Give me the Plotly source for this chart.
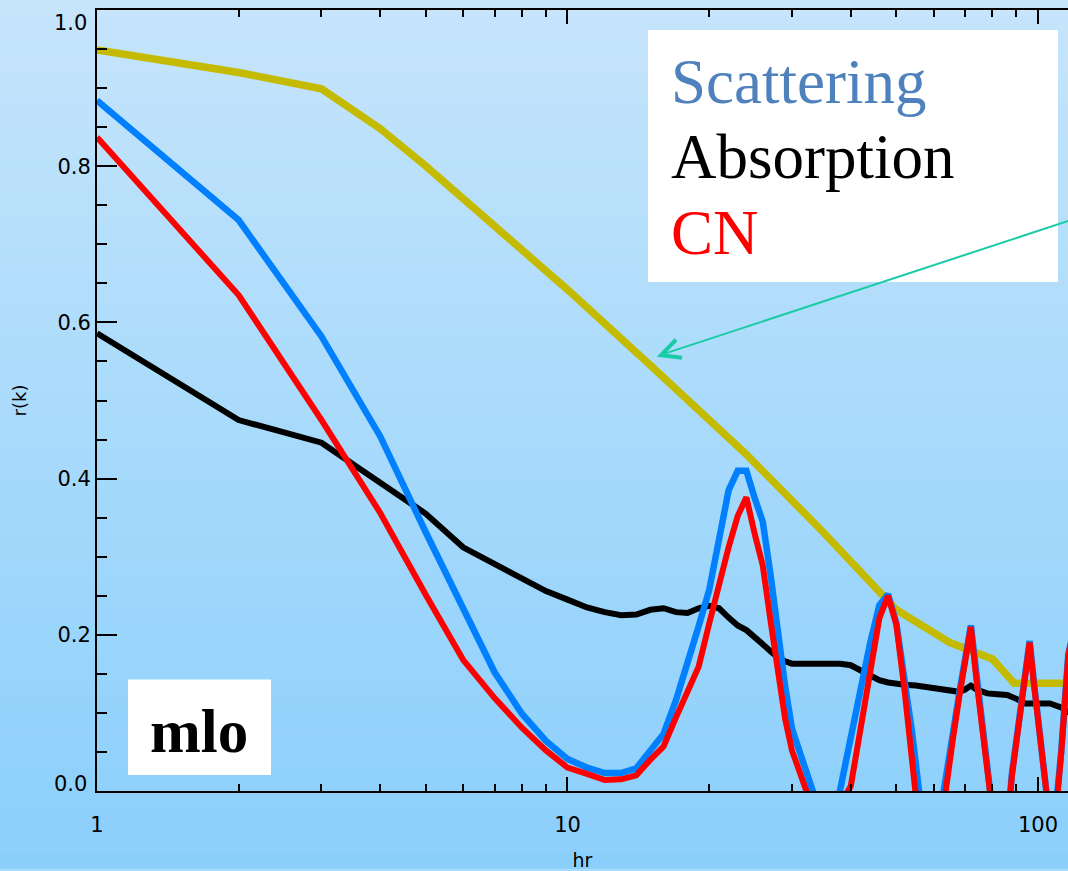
import plotly.graph_objects as go

# ---------------- data ----------------
hours = [1, 2, 3, 4, 5, 6, 7, 8, 9, 10, 11, 12, 13, 14, 15, 16, 17, 18, 19, 20,
         21, 22, 23, 24, 25, 26, 27, 28, 29, 30, 31, 32, 33, 34, 35, 36, 37, 38, 39, 40,
         42, 44, 46, 48, 50, 52, 54, 56, 58, 60, 62, 64, 66, 68, 70, 72, 74, 76, 78, 80,
         82, 84, 86, 88, 90, 92, 94, 96, 98, 100, 102, 104, 106, 108, 110, 112, 114, 116, 118, 120]

scattering = [0.884, 0.731, 0.582, 0.454, 0.331, 0.232, 0.152, 0.099, 0.064, 0.041,
              0.030, 0.023, 0.023, 0.029, 0.053, 0.073, 0.116, 0.163, 0.211, 0.257,
              0.326, 0.385, 0.410, 0.410, 0.375, 0.345, 0.278, 0.198, 0.135, 0.080,
              0.051, 0.029, 0.005, -0.02, -0.04, -0.04, -0.02, 0.002, 0.036, 0.069,
              0.131, 0.190, 0.238, 0.252, 0.215, 0.150, 0.075, -0.005, -0.06, -0.08,
              -0.03, 0.025, 0.075, 0.125, 0.175, 0.212, 0.150, 0.085, 0.020, -0.04,
              -0.08, -0.08, -0.05, 0.022, 0.070, 0.118, 0.163, 0.192, 0.140, 0.090,
              0.040, -0.010, -0.04, -0.03, 0.000, 0.050, 0.115, 0.175, 0.195, 0.185]

cn = [0.837, 0.635, 0.475, 0.356, 0.251, 0.168, 0.119, 0.081, 0.052, 0.030,
      0.022, 0.014, 0.015, 0.020, 0.040, 0.057, 0.094, 0.128, 0.159, 0.214,
      0.268, 0.312, 0.352, 0.376, 0.329, 0.289, 0.219, 0.155, 0.093, 0.052,
      0.029, 0.007, -0.02, -0.04, -0.05, -0.04, -0.03, -0.01, -0.005, 0.006,
      0.081, 0.153, 0.221, 0.250, 0.213, 0.131, 0.036, -0.05, -0.09, -0.10,
      -0.05, 0.015, 0.068, 0.120, 0.170, 0.210, 0.142, 0.077, 0.013, -0.05,
      -0.08, -0.08, -0.05, 0.019, 0.067, 0.114, 0.160, 0.190, 0.138, 0.086,
      0.035, -0.015, -0.04, -0.03, -0.005, 0.047, 0.111, 0.174, 0.195, 0.185]

abs_hours = [1, 2, 3, 4, 5, 6, 7, 8, 9, 10, 11, 12, 13, 14, 15, 16, 17, 18, 19, 20,
             21, 22, 23, 24, 25, 26, 27, 28, 29, 30, 32, 34, 36, 38, 40, 42, 44, 46, 48, 50,
             52, 55, 58, 62, 65, 68, 70, 72, 74, 78, 82, 86, 90, 94, 100, 106, 112, 116, 120]
absorption = [0.586, 0.475, 0.446, 0.396, 0.355, 0.312, 0.290, 0.272, 0.256, 0.245,
              0.235, 0.229, 0.225, 0.226, 0.232, 0.234, 0.229, 0.228, 0.234, 0.237,
              0.234, 0.222, 0.212, 0.206, 0.198, 0.188, 0.179, 0.171, 0.166, 0.163,
              0.163, 0.163, 0.163, 0.163, 0.161, 0.154, 0.148, 0.142, 0.139, 0.137,
              0.136, 0.135, 0.133, 0.131, 0.129, 0.127, 0.130, 0.135, 0.130, 0.125,
              0.124, 0.123, 0.118, 0.112, 0.112, 0.112, 0.107, 0.101, 0.099]

env_hours = [1, 2, 3, 4, 5, 7, 10, 15, 24, 35, 46, 50, 65, 80, 89, 120]
envelope = [0.949, 0.920, 0.899, 0.848, 0.800, 0.723, 0.642, 0.545, 0.431, 0.331,
            0.257, 0.232, 0.190, 0.169, 0.138, 0.138]

y_ticks = [0.0, 0.2, 0.4, 0.6, 0.8, 1.0]
y_ticklabels = ["", "0.2", "0.4", "0.6", "0.8", ""]
top_label = "1.0"
bottom_label = "0.0"
legend_labels = ["Scattering", "Absorption", "CN"]
site_label = "mlo"

# ---------------- layout geometry ----------------
W, H = 1068, 871
ML, MR, MT, MB = 97, 0, 10, 77
PW, PH = W - ML - MR, H - MT - MB
XMAX_LOG = 2.0638


def px_x(px):
    return (px - ML) / PW


def px_y(py):
    return (H - MB - py) / PH


fig = go.Figure()

fig.add_trace(go.Scatter(x=env_hours, y=envelope, mode="lines",
                         line=dict(color="#c4bb00", width=7.5), showlegend=False))
fig.add_trace(go.Scatter(x=abs_hours, y=absorption, mode="lines",
                         line=dict(color="black", width=6), showlegend=False))
fig.add_trace(go.Scatter(x=hours, y=scattering, mode="lines",
                         line=dict(color="#0080ff", width=6.5), showlegend=False))
fig.add_trace(go.Scatter(x=hours, y=cn, mode="lines",
                         line=dict(color="#ff0000", width=6), showlegend=False))

# gradient background
shapes = []
top_c = (198, 229, 251)
bot_c = (138, 207, 251)
N = 60
for i in range(N):
    t = (i + 0.5) / N
    c = tuple(int(round(top_c[k] + (bot_c[k] - top_c[k]) * t)) for k in range(3))
    py0 = H * i / N
    py1 = H * (i + 1) / N + 1
    shapes.append(dict(type="rect", xref="paper", yref="paper",
                       x0=px_x(-5), x1=px_x(W + 5), y0=px_y(py1), y1=px_y(py0),
                       fillcolor="rgb(%d,%d,%d)" % c, line=dict(width=0), layer="below"))

# white boxes
shapes.append(dict(type="rect", xref="paper", yref="paper",
                   x0=px_x(648), x1=px_x(1058), y0=px_y(283), y1=px_y(30),
                   fillcolor="white", line=dict(width=0), layer="above"))
shapes.append(dict(type="rect", xref="paper", yref="paper",
                   x0=px_x(128), x1=px_x(271), y0=px_y(778), y1=px_y(682),
                   fillcolor="white", line=dict(width=0), layer="above"))

# arrow (shaft + open head)
tipx, tipy = 660, 356.5
tailx, taily = 1075, 219.5
shapes.append(dict(type="line", xref="paper", yref="paper",
                   x0=px_x(tailx), y0=px_y(taily), x1=px_x(tipx), y1=px_y(tipy),
                   line=dict(color="#19cca6", width=2), layer="above"))
shapes.append(dict(type="path", xref="paper", yref="paper",
                   path="M %f %f L %f %f L %f %f" % (
                       px_x(676), px_y(341), px_x(tipx + 1), px_y(tipy), px_x(682), px_y(359)),
                   line=dict(color="#19cca6", width=4), layer="above"))

fig.update_layout(shapes=shapes)

# texts
leg_colors = ["#4f81bd", "black", "#ff0000"]
leg_baselines = [103.3, 178.3, 255.0]
for lab, col, bl in zip(legend_labels, leg_colors, leg_baselines):
    fig.add_annotation(text=lab, xref="paper", yref="paper",
                       x=px_x(669), y=px_y(bl - 21), xanchor="left", yanchor="middle",
                       showarrow=False,
                       font=dict(family="Liberation Serif, Times New Roman, serif", size=63, color=col))

fig.add_annotation(text="<b>%s</b>" % site_label, xref="paper", yref="paper",
                   x=px_x(199), y=px_y(755 - 20.5), xanchor="center", yanchor="middle",
                   showarrow=False,
                   font=dict(family="Liberation Serif, Times New Roman, serif", size=61, color="black"))

tickfont = dict(family="DejaVu Sans, Arial, sans-serif", size=21, color="black")

# end labels of the y axis (IDL nudges them inside the axis span)
fig.add_annotation(text=top_label, xref="paper", yref="paper",
                   x=px_x(89), y=px_y(23), xanchor="right", yanchor="middle",
                   showarrow=False, font=tickfont)
fig.add_annotation(text=bottom_label, xref="paper", yref="paper",
                   x=px_x(89), y=px_y(787), xanchor="right", yanchor="middle",
                   showarrow=False, font=tickfont)

fig.update_layout(
    width=W, height=H,
    margin=dict(l=ML, r=MR, t=MT, b=MB, pad=0),
    paper_bgcolor="rgb(168,218,251)",
    plot_bgcolor="rgba(0,0,0,0)",
    showlegend=False,
    xaxis=dict(type="log", range=[0, XMAX_LOG], tickmode="linear", tick0=0, dtick=1,
               ticks="inside", ticklen=14, tickwidth=2, tickcolor="black",
               minor=dict(ticks="inside", ticklen=7, tickwidth=2, tickcolor="black",
                          dtick="D1", showgrid=False),
               showline=True, linewidth=2, linecolor="black", mirror="ticks",
               showgrid=False, zeroline=False, tickfont=tickfont,
               ticklabelstandoff=14,
               title=dict(text="hr", font=dict(family="DejaVu Sans, Arial, sans-serif",
                                               size=19, color="black"), standoff=20)),
    yaxis=dict(range=[0, 1], tickmode="array", tickvals=y_ticks, ticktext=y_ticklabels,
               ticks="inside", ticklen=20, tickwidth=2, tickcolor="black",
               minor=dict(ticks="inside", ticklen=10, tickwidth=2, tickcolor="black",
                          tickmode="linear", tick0=0, dtick=0.05, showgrid=False),
               showline=True, linewidth=2, linecolor="black", mirror=False,
               showgrid=False, zeroline=False, tickfont=tickfont,
               ticklabelstandoff=0,
               title=dict(text="r(k)", font=dict(family="DejaVu Sans, Arial, sans-serif",
                                                  size=18, color="black"), standoff=26)),
    yaxis2=dict(range=[0, 1], overlaying="y", side="right", anchor="x",
                tickmode="array", tickvals=y_ticks,
                ticks="inside", ticklen=11, tickwidth=2, tickcolor="black",
                minor=dict(ticks="inside", ticklen=3, tickwidth=2, tickcolor="black",
                           tickmode="linear", tick0=0, dtick=0.05, showgrid=False),
                showline=False, showgrid=False, zeroline=False, showticklabels=False),
)

fig.write_html("out.html", config={"displayModeBar": False},
               post_script="document.body.style.margin='0';document.body.style.overflow='hidden';")
